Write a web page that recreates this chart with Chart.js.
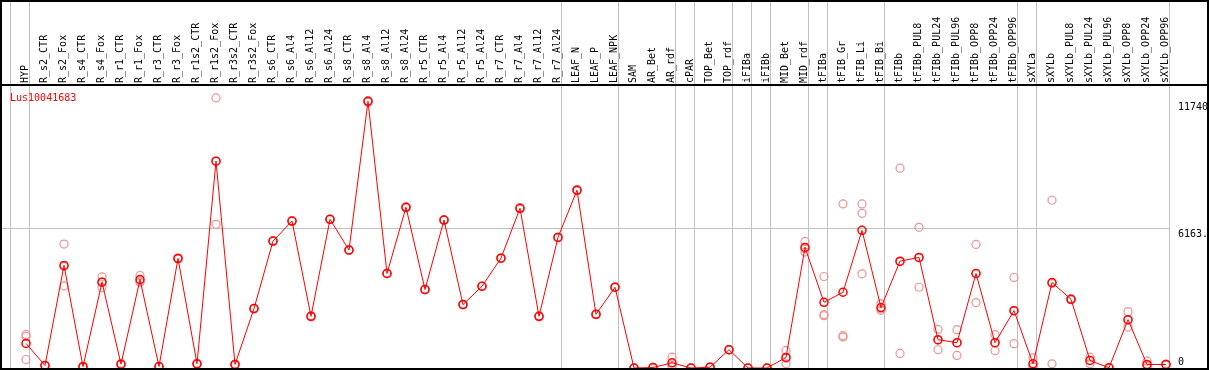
<!DOCTYPE html>
<html>
<head>
<meta charset="utf-8">
<script src="https://cdn.jsdelivr.net/npm/chart.js@4/dist/chart.umd.min.js"></script>
<style>
html,body{margin:0;padding:0;background:#fff;}
#wrap{width:1209px;height:370px;}
</style>
</head>
<body>
<div id="wrap"><canvas id="c" width="1209" height="370"></canvas></div>
<script>
const geneName = "Lus10041683";

const categories = ["HYP","R_s2_CTR","R_s2_Fox","R_s4_CTR","R_s4_Fox","R_r1_CTR","R_r1_Fox","R_r3_CTR","R_r3_Fox","R_r1s2_CTR","R_r1s2_Fox","R_r3s2_CTR","R_r3s2_Fox","R_s6_CTR","R_s6_Al4","R_s6_Al12","R_s6_Al24","R_s8_CTR","R_s8_Al4","R_s8_Al12","R_s8_Al24","R_r5_CTR","R_r5_Al4","R_r5_Al12","R_r5_Al24","R_r7_CTR","R_r7_Al4","R_r7_Al12","R_r7_Al24","LEAF_N","LEAF_P","LEAF_NPK","SAM","AR_Bet","AR_rdf","cPAR","TOP_Bet","TOP_rdf","iFIBa","iFIBb","MID_Bet","MID_rdf","tFIBa","tFIB_Gr","tFIB_Li","tFIB_Bi","tFIBb","tFIBb_PUL8","tFIBb_PUL24","tFIBb_PUL96","tFIBb_OPP8","tFIBb_OPP24","tFIBb_OPP96","sXYLa","sXYLb","sXYLb_PUL8","sXYLb_PUL24","sXYLb_PUL96","sXYLb_OPP8","sXYLb_OPP24","sXYLb_OPP96"];

// first category of each group (a separator line is drawn before each, and after the last category)
const groupStarts = ["HYP","R_s2_CTR","LEAF_N","SAM","cPAR","TOP_Bet","iFIBa","iFIBb","MID_Bet","tFIBa","tFIB_Gr","tFIBb","sXYLa","sXYLb"];

const meanValues = [1082,110,4514,60,3777,168,3896,66,4823,185,9108,155,2615,5588,6471,2275,6546,5190,11740,4161,7076,3454,6515,2791,3600,4837,7032,2275,5751,7827,2363,3556,0,20,230,0,35,804,0,0,464,5309,2893,3335,6060,2659,4704,4867,1245,1113,4161,1113,2526,185,3763,3026,331,9,2129,155,155];

const rep1 = [1480,120,5455,50,4011,200,4072,60,4800,200,11891,170,2600,5600,6450,2300,6550,5200,11700,4150,7050,3450,6500,2800,3600,4850,7000,2250,5750,7800,2350,3550,0,30,477,0,40,800,0,0,773,5574,4028,7222,7222,2835,8798,6193,1700,1687,5442,1466,3984,450,7385,3000,477,0,2482,300,170];
const rep2 = [1391,100,3613,70,3543,150,3777,70,4850,170,6325,140,2630,5580,6490,2250,6540,5180,11760,4170,7100,3460,6530,2780,3600,4820,7060,2300,5760,7850,2370,3560,0,20,100,0,30,810,0,0,185,5102,2350,1422,6811,2540,640,3556,804,552,2880,760,1069,60,185,3050,330,15,1802,100,150];
const rep3 = [375,110,4474,60,3777,154,3839,68,4819,185,9108,155,2615,5584,6473,2275,6548,5190,11760,4163,7078,3452,6515,2793,3600,4839,7036,2275,5743,7831,2369,3558,0,10,113,0,35,802,0,0,434,5251,2301,1361,4147,2602,4674,4852,1231,1100,4161,1113,2525,45,3719,3028,186,12,2103,65,145];

const tickValues = [11740, 6163, 0];
const tickLabels = ["11740", "6163.", "0"];
const gridValues = [6163];

const FONT = "10px 'DejaVu Sans Mono', 'Liberation Mono', monospace";
const RED = "#ff0000";
const PINK = "rgb(240,145,145)";
const GRID = "rgb(192,192,192)";

const meanPoints = meanValues.map((v, i) => ({x: i, y: v}));
const repPoints = [];
[rep1, rep2, rep3].forEach(arr => arr.forEach((v, i) => repPoints.push({x: i, y: v})));

const framePlugin = {
  id: 'frame',
  beforeDraw(chart) {
    const ctx = chart.ctx;
    ctx.save();
    ctx.fillStyle = '#fff';
    ctx.fillRect(0, 0, chart.width, chart.height);
    ctx.restore();
  },
  beforeDatasetsDraw(chart) {
    const ctx = chart.ctx, xs = chart.scales.x, ys = chart.scales.y;
    ctx.save();
    ctx.strokeStyle = GRID;
    ctx.lineWidth = 1;
    const seps = groupStarts.map(n => categories.indexOf(n) - 1);
    seps.push(categories.length - 1);
    const off = 4 / 19;
    seps.forEach(i => {
      const px = Math.round(xs.getPixelForValue(i + off)) - 0.5;
      ctx.beginPath(); ctx.moveTo(px, 0); ctx.lineTo(px, chart.height); ctx.stroke();
    });
    gridValues.forEach(v => {
      const py = Math.round(ys.getPixelForValue(v)) + 0.5;
      ctx.beginPath(); ctx.moveTo(0, py); ctx.lineTo(Math.round(xs.getPixelForValue(categories.length - 1 + off)), py); ctx.stroke();
    });
    ctx.restore();
  },
  afterDraw(chart) {
    const ctx = chart.ctx, xs = chart.scales.x, ys = chart.scales.y, a = chart.chartArea;
    const W = chart.width, H = chart.height;
    ctx.save();
    ctx.strokeStyle = '#000';
    ctx.lineWidth = 2;
    ctx.beginPath();
    ctx.moveTo(0, 1); ctx.lineTo(W, 1);
    ctx.moveTo(1, 0); ctx.lineTo(1, H);
    ctx.moveTo(W - 1, 0); ctx.lineTo(W - 1, H);
    ctx.moveTo(0, a.top); ctx.lineTo(W, a.top);
    ctx.moveTo(0, a.bottom + 1); ctx.lineTo(W, a.bottom + 1);
    ctx.stroke();

    ctx.font = FONT;
    ctx.fillStyle = '#000';
    ctx.textAlign = 'left';
    ctx.textBaseline = 'middle';
    categories.forEach((c, i) => {
      const px = xs.getPixelForValue(i) - 1;
      ctx.save();
      ctx.translate(px, a.top - 2);
      ctx.rotate(-Math.PI / 2);
      ctx.fillText(c, 0, 0);
      ctx.restore();
    });
    ctx.fillStyle = RED;
    ctx.textBaseline = 'alphabetic';
    ctx.fillText(geneName, xs.getPixelForValue(-0.789) - 1, a.top + 16);
    ctx.fillStyle = '#000';
    tickValues.forEach((v, k) => {
      let py = ys.getPixelForValue(v);
      py = (v === 0) ? py - 3 : py + 9;
      ctx.fillText(tickLabels[k], a.right + 8, py);
    });
    ctx.restore();
  }
};

new Chart(document.getElementById('c'), {
  type: 'line',
  data: {
    datasets: [
      {
        label: 'mean',
        data: meanPoints,
        borderColor: RED,
        borderWidth: 1,
        pointStyle: 'circle',
        pointRadius: 4,
        pointBorderWidth: 1.5,
        pointBorderColor: RED,
        pointBackgroundColor: 'rgba(255,255,255,0)',
        tension: 0,
        clip: false,
        order: 0
      },
      {
        label: 'replicates',
        data: repPoints,
        showLine: false,
        pointStyle: 'circle',
        pointRadius: 4,
        pointBorderWidth: 1.2,
        pointBorderColor: PINK,
        pointBackgroundColor: 'rgba(255,255,255,0)',
        clip: false,
        order: 1
      }
    ]
  },
  options: {
    responsive: false,
    animation: false,
    devicePixelRatio: 1,
    layout: { autoPadding: false, padding: { left: 11, right: 39, top: 85, bottom: 2 } },
    plugins: { legend: { display: false }, tooltip: { enabled: false } },
    scales: {
      x: { type: 'linear', display: false, min: -15 / 19, max: -15 / 19 + 61 },
      y: { type: 'linear', display: false, min: 0, max: 12460 }
    }
  },
  plugins: [framePlugin]
});
</script>
</body>
</html>
